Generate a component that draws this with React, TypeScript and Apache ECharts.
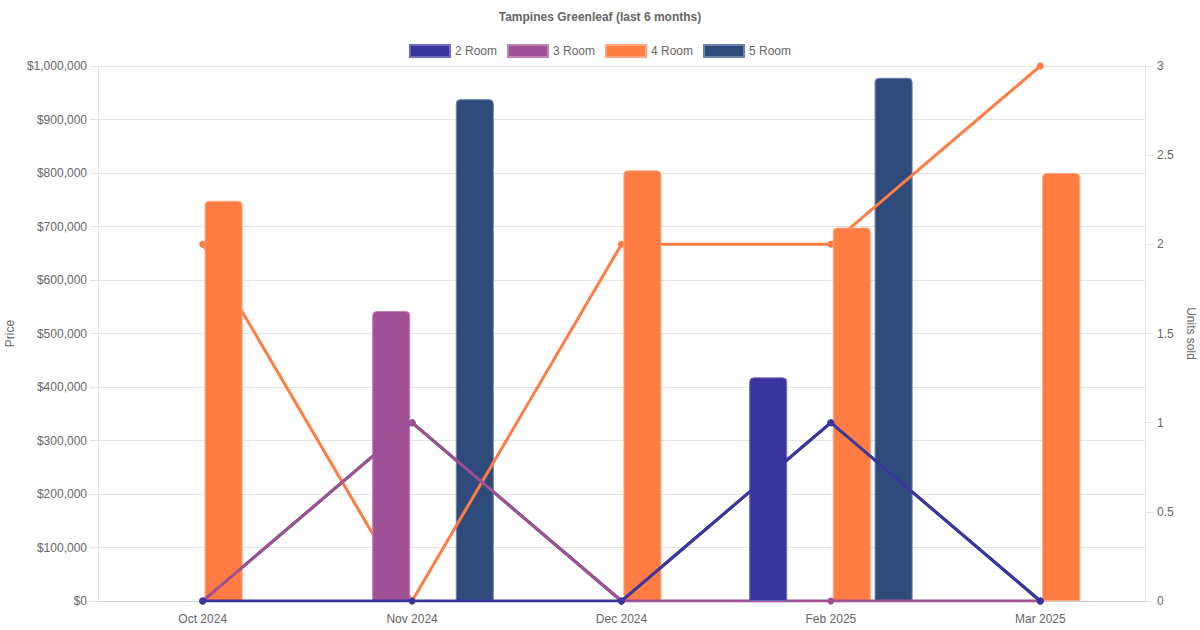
import React, { useEffect, useRef } from "react";
import * as echarts from "echarts";

const categories = ["Oct 2024", "Nov 2024", "Dec 2024", "Feb 2025", "Mar 2025"];
const roomTypes = ["2 Room", "3 Room", "4 Room", "5 Room"];
const colors = ["#3b35a0", "#a05195", "#ff7c43", "#2f4b7c"];
const borderColors = ["#6f6bbd", "#bd85b3", "#ffa57c", "#6a80a6"];

// Average price per room type (null = no transaction)
const price2Room = [null, null, null, 418000, null];
const price3Room = [null, 542000, null, null, null];
const price4Room = [748000, null, 805000, 698000, 800000];
const price5Room = [null, 938000, null, 978000, null];

// Units sold per room type
const units2Room = [0, 0, 0, 1, 0];
const units3Room = [0, 1, 0, 0, 0];
const units4Room = [2, 0, 2, 2, 3];
const units5Room = [0, 1, 0, 1, 0];

const priceTicks = { min: 0, max: 1000000, interval: 100000 };
const unitTicks = { min: 0, max: 3, interval: 0.5 };

const prices = [price2Room, price3Room, price4Room, price5Room];
const units = [units2Room, units3Room, units4Room, units5Room];
const barZ = [8, 6, 5, 2];
const lineZ = [9, 7, 4, 3];

export default function App() {
  const ref = useRef<HTMLDivElement>(null);
  useEffect(() => {
    document.body.style.margin = "0";
    if (!ref.current) return;
    const chart = echarts.init(ref.current, undefined, { renderer: "svg" });
    const font = "'Liberation Sans', Arial, Helvetica, sans-serif";
    const barSeries = roomTypes.map((name, i) => ({
      name,
      type: "bar",
      yAxisIndex: 0,
      data: prices[i],
      barWidth: 38,
      barGap: "10%",
      z: barZ[i],
      itemStyle: {
        color: colors[i],
        borderColor: borderColors[i],
        borderWidth: 1,
        borderRadius: [4, 4, 0, 0],
      },
    }));
    const lineSeries = roomTypes.map((name, i) => ({
      name,
      type: "line",
      yAxisIndex: 1,
      data: units[i],
      z: lineZ[i],
      symbol: "circle",
      symbolSize: 7,
      lineStyle: { color: colors[i], width: 3 },
      itemStyle: { color: colors[i] },
    }));
    chart.setOption({
      animation: false,
      textStyle: { fontFamily: font },
      title: {
        text: "Tampines Greenleaf (last 6 months)",
        left: "center",
        top: 6,
        textStyle: { fontSize: 12, fontWeight: "bold", color: "#666", fontFamily: font },
      },
      legend: {
        top: 39,
        left: "center",
        icon: "rect",
        itemWidth: 40,
        itemHeight: 12,
        itemGap: 10,
        data: roomTypes,
        textStyle: { fontSize: 12, color: "#666", fontFamily: font },
      },
      grid: { left: 98, right: 55, top: 66, bottom: 29, containLabel: false, outerBoundsMode: "none" },
      xAxis: {
        type: "category",
        data: categories,
        boundaryGap: true,
        axisLine: { show: true, lineStyle: { color: "#cccccc", width: 1 } },
        axisTick: { show: false },
        splitLine: { show: false },
        axisLabel: { color: "#666", fontSize: 12, margin: 12, fontFamily: font },
      },
      yAxis: [
        {
          type: "value",
          position: "left",
          min: priceTicks.min,
          max: priceTicks.max,
          interval: priceTicks.interval,
          name: "Price",
          nameLocation: "middle",
          nameRotate: 90,
          nameGap: 81,
          nameTextStyle: { color: "#666", fontSize: 12, fontFamily: font },
          axisLine: { show: true, lineStyle: { color: "#e4e4e4" } },
          axisTick: { show: true, length: 8, lineStyle: { color: "#e4e4e4" } },
          splitLine: { show: true, lineStyle: { color: "#e4e4e4" } },
          axisLabel: {
            color: "#666",
            fontSize: 12,
            margin: 11,
            fontFamily: font,
            formatter: (v: number) => "$" + v.toLocaleString("en-US"),
          },
        },
        {
          type: "value",
          position: "right",
          min: unitTicks.min,
          max: unitTicks.max,
          interval: unitTicks.interval,
          name: "Units sold",
          nameLocation: "middle",
          nameRotate: -90,
          nameGap: 38,
          nameTextStyle: { color: "#666", fontSize: 12, fontFamily: font },
          axisLine: { show: true, lineStyle: { color: "#e4e4e4" } },
          axisTick: { show: true, length: 8, lineStyle: { color: "#e4e4e4" } },
          splitLine: { show: false },
          axisLabel: { color: "#666", fontSize: 12, margin: 12, fontFamily: font },
        },
      ],
      series: [...barSeries, ...lineSeries],
    });
    return () => chart.dispose();
  }, []);
  return (
    <div
      ref={ref}
      style={{ position: "absolute", left: 0, top: 0, width: 1200, height: 630, background: "#fff" }}
    />
  );
}
